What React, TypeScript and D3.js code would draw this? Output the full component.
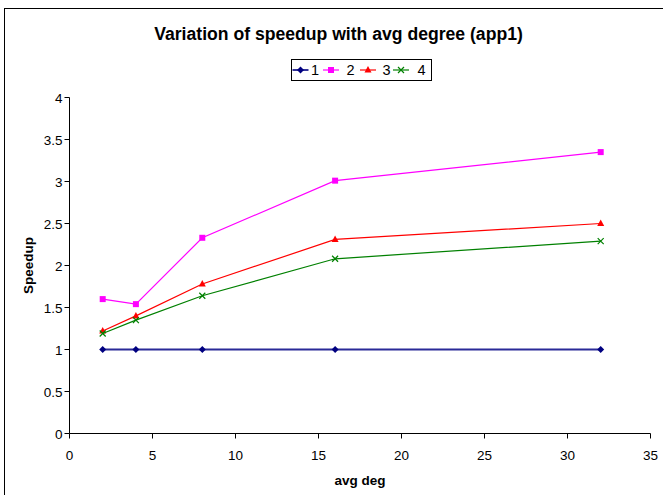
import React from "react";
import * as d3 from "d3";

const degrees = [2, 4, 8, 16, 32];
const series1 = [1, 1, 1, 1, 1];
const series2 = [1.6, 1.54, 2.33, 3.01, 3.35];
const series3 = [1.22, 1.4, 1.78, 2.31, 2.5];
const series4 = [1.19, 1.35, 1.64, 2.08, 2.29];
const seriesNames = ["1", "2", "3", "4"];
const xTicks = [0, 5, 10, 15, 20, 25, 30, 35];
const yTicks = [0, 0.5, 1, 1.5, 2, 2.5, 3, 3.5, 4];

const W = 663;
const H = 495;
const x = d3.scaleLinear().domain([0, 35]).range([69.5, 650.5]);
const y = d3.scaleLinear().domain([0, 4]).range([433.5, 97.5]);

const colors = ["#000080", "#FF00FF", "#FF0000", "#008000"];
const shapes = ["diamond", "square", "triangle", "x"];
const allSeries = [series1, series2, series3, series4];

function Marker({ shape, cx, cy, color }: { shape: string; cx: number; cy: number; color: string }) {
  if (shape === "diamond") {
    return <path d={`M${cx},${cy - 3.5}L${cx + 3.5},${cy}L${cx},${cy + 3.5}L${cx - 3.5},${cy}Z`} fill={color} />;
  }
  if (shape === "square") {
    return <rect x={cx - 3} y={cy - 3} width={6} height={6} fill={color} />;
  }
  if (shape === "triangle") {
    return <path d={`M${cx},${cy - 4}L${cx + 3.5},${cy + 2.5}L${cx - 3.5},${cy + 2.5}Z`} fill={color} />;
  }
  return (
    <path
      d={`M${cx - 3},${cy - 3}L${cx + 3},${cy + 3}M${cx - 3},${cy + 3}L${cx + 3},${cy - 3}`}
      stroke={color}
      strokeWidth={1.2}
      fill="none"
    />
  );
}

export default function App() {
  const line = d3
    .line<number>()
    .x((_, i) => x(degrees[i]))
    .y((v) => y(v));
  const font = "Liberation Sans, Arial, sans-serif";
  const legendItems = [
    { lx: 292.5, tx: 315 },
    { lx: 323, tx: 350.5 },
    { lx: 360, tx: 386.5 },
    { lx: 393, tx: 421.5 },
  ];
  return (
    <svg
      width={W}
      height={H}
      style={{ position: "absolute", left: 0, top: 0 }}
      fontFamily={font}
    >
      <rect x={0} y={0} width={W} height={H} fill="#fff" />
      <rect x={4.5} y={8.5} width={W + 10} height={H + 10} fill="none" stroke="#000" strokeWidth={1} />
      <text x={338.5} y={39.5} textAnchor="middle" fontSize={17.6} fontWeight="bold" fill="#000">
        Variation of speedup with avg degree (app1)
      </text>

      {/* legend */}
      <rect x={291.5} y={59.5} width={140} height={21} fill="#fff" stroke="#000" strokeWidth={1} />
      {legendItems.map((it, i) => (
        <g key={i}>
          <line
            x1={it.lx}
            x2={it.lx + 16}
            y1={70}
            y2={70}
            stroke={colors[i]}
            strokeWidth={i === 0 ? 1.6 : 1.2}
          />
          <Marker shape={shapes[i]} cx={it.lx + 8} cy={70} color={colors[i]} />
          <text x={it.tx} y={75} textAnchor="middle" fontSize={14.5} fill="#000">
            {seriesNames[i]}
          </text>
        </g>
      ))}

      {/* axes */}
      <line x1={x(0)} x2={x(0)} y1={y(4)} y2={y(0)} stroke="#000" strokeWidth={1} />
      <line x1={x(0)} x2={x(35)} y1={y(0)} y2={y(0)} stroke="#000" strokeWidth={1} />
      {yTicks.map((t) => (
        <g key={"y" + t}>
          <line x1={x(0) - 5} x2={x(0)} y1={y(t)} y2={y(t)} stroke="#000" />
          <text x={x(0) - 7} y={y(t) + 5} textAnchor="end" fontSize={13.5} fill="#000">
            {t}
          </text>
        </g>
      ))}
      {xTicks.map((t) => (
        <g key={"x" + t}>
          <line x1={x(t)} x2={x(t)} y1={y(0)} y2={y(0) + 5} stroke="#000" />
          <text x={x(t)} y={460} textAnchor="middle" fontSize={13.5} fill="#000">
            {t}
          </text>
        </g>
      ))}
      <text x={360} y={485} textAnchor="middle" fontSize={13.5} fontWeight="bold" fill="#000">
        avg deg
      </text>
      <text
        transform={`translate(33,${(y(0) + y(4)) / 2}) rotate(-90)`}
        textAnchor="middle"
        fontSize={13.5}
        fontWeight="bold"
        fill="#000"
      >
        Speedup
      </text>

      {/* series */}
      {allSeries.map((s, i) => (
        <g key={"s" + i}>
          <path
            d={line(s) || ""}
            fill="none"
            stroke={i === 0 ? "#2a2a98" : colors[i]}
            strokeWidth={i === 0 ? 1.8 : 1.2}
          />
          {s.map((v, j) => (
            <Marker key={j} shape={shapes[i]} cx={x(degrees[j])} cy={y(v)} color={colors[i]} />
          ))}
        </g>
      ))}
    </svg>
  );
}
